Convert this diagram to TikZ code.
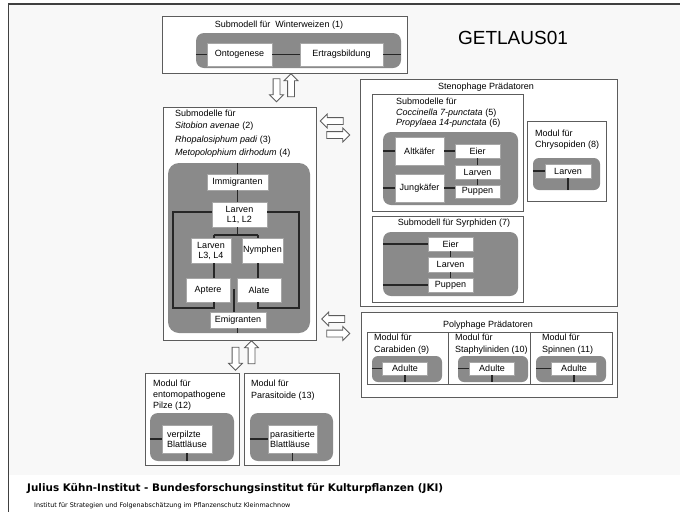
\documentclass[tikz,border=0pt]{standalone}
\usepackage{fontspec}
\setmainfont{Liberation Sans}
\newfontfamily\jkifont{DejaVu Sans}
\usetikzlibrary{shapes.arrows}
\definecolor{slidebg}{HTML}{F8F8F8}
\definecolor{panelgrey}{HTML}{8A8A8A}
\definecolor{framegrey}{HTML}{5C5C5C}
\newcommand{\lblfont}{\fontsize{9}{10}\selectfont}
\tikzset{
  % box given by its two corners: x1, y1, x2, y2
  area/.style n args={4}{
    minimum width={#3-#1},
    minimum height={#4-#2},
    at={({(#1+#3)/2},{(#2+#4)/2})}
  },
  frame/.style={draw=framegrey, line width=0.9pt, fill=white, inner sep=0pt},
  panel/.style={fill=panelgrey, rounded corners=8pt, inner sep=0pt},
  item/.style={
    fill=white,
    draw=black!35,
    line width=0.4pt,
    inner sep=0pt,
    font=\lblfont,
    align=center
  },
  link/.style={draw=black!85, line width=1.2pt},
  caption/.style={font=\lblfont, inner sep=0pt, anchor=base west},
  heading/.style={font=\lblfont, inner sep=0pt, anchor=base},
  flow/.style={
    single arrow,
    draw=framegrey,
    fill=white,
    line width=0.8pt,
    inner sep=0pt,
    text width=6pt,
    text height=6pt,
    text depth=0pt,
    minimum width=13pt,
    minimum height=23pt,
    single arrow head extend=3.5pt,
    single arrow head indent=0pt
  }
}

\begin{document}
\begin{tikzpicture}[x=1pt, y=-1pt]
    \useasboundingbox (0,0) rectangle (680,512);

    % Folienhintergrund und Rahmen
    \fill[slidebg] (9,4) rectangle (680,475);
    \draw[line width=1.4pt, black!75] (680,4) -- (8.5,4) -- (8.5,512);

    \node[font=\fontsize{19}{22}\selectfont, inner sep=0pt] (modname) at (513,37.5) {GETLAUS01};

    % Winterweizen
    \node[frame, area={162}{16}{407}{73}] (wwbox) {};
    \node[heading] (wwtitle) at (279,27.5) {Submodell für~ Winterweizen (1)};
    \node[panel, area={196}{33}{401}{68}] (wwpanel) {};
    \node[item, area={207}{43}{272}{66}] (onto) {Ontogenese};
    \node[item, area={300}{43}{383}{66}] (ertrag) {Ertragsbildung};
    \draw[link] (wwpanel.west |- onto) -- (onto);
    \draw[link] (onto) -- (ertrag);
    \draw[link] (ertrag) -- (ertrag -| wwpanel.east);

    \node[flow, shape border rotate=270] (wwdown) at (276.5,88.5) {};
    \node[flow, shape border rotate=90] (wwup) at (291,87) {};

    % Blattlaeuse
    \node[frame, area={163}{107}{316}{340}] (aphbox) {};
    \node[caption] (aph1) at (175,116.5) {Submodelle für};
    \node[caption] (aph2) at (175,128.5) {\textit{Sitobion avenae} (2)};
    \node[caption] (aph3) at (175,142.5) {\textit{Rhopalosiphum padi} (3)};
    \node[caption] (aph4) at (175,155.5) {\textit{Metopolophium dirhodum} (4)};
    \node[panel, rounded corners=11pt, area={168}{163}{310}{333}] (aphpanel) {};

    \node[item, area={207}{174}{268}{190}] (immi) {Immigranten};
    \node[item, area={212}{202}{267}{227}] (la12) {Larven\\L1, L2};
    \node[item, area={191}{238}{231}{263}] (l34) {Larven\\L3, L4};
    \node[item, area={242}{238}{283}{263}] (nym) {Nymphen};
    \node[item, area={186}{278}{230}{302}] (apt) {Aptere};
    \node[item, area={237}{278}{281}{302}] (ala) {Alate};
    \node[item, area={210}{312}{266}{328}] (emi) {Emigranten};

    \coordinate (bl) at (214,235);
    \coordinate (br) at (258,235);
    \coordinate (lpt) at (173,212);
    \coordinate (lpa) at (173,308);
    \coordinate (rpt) at (299,212);
    \coordinate (rpa) at (299,308);
    \coordinate (ej) at (234,289);

    \draw[link] (aphpanel.north -| immi) -- (immi);
    \draw[link] (immi) -- (immi |- la12.north);
    \draw[link] (la12.south -| immi) -- (immi |- bl);
    \draw[link] (bl) -- (br);
    \draw[link] (bl) -- (bl |- l34.north);
    \draw[link] (br) -- (br |- nym.north);
    \draw[link] (l34.south -| bl) -- (bl |- apt.north);
    \draw[link] (nym.south -| br) -- (br |- ala.north);
    \draw[link] (lpt -| la12.west) -- (lpt) -- (lpa) -- (lpa -| bl) -- (bl |- apt.south);
    \draw[link] (rpt -| la12.east) -- (rpt) -- (rpa) -- (rpa -| br) -- (br |- ala.south);
    \draw[link] (emi.north -| ej) -- (ej);
    \draw[link] (emi.south -| immi) -- (immi |- aphpanel.south);

    \node[flow, shape border rotate=270] (aphdown) at (235.5,357) {};
    \node[flow, shape border rotate=90] (aphup) at (251.5,354) {};

    \node[flow, shape border rotate=180] (stenoin) at (333.5,121) {};
    \node[flow, shape border rotate=0] (stenoout) at (336.5,135) {};
    \node[flow, shape border rotate=180] (polyin) at (335,319) {};
    \node[flow, shape border rotate=0] (polyout) at (336.5,333.5) {};

    % Stenophage Praedatoren
    \node[frame, area={360}{79}{617}{306}] (stenobox) {};
    \node[heading] (stenotitle) at (486,89.5) {Stenophage Prädatoren};

    \node[frame, area={372}{94}{523}{211}] (coccbox) {};
    \node[caption] (cocc1) at (396,104.5) {Submodelle für};
    \node[caption] (cocc2) at (396,115) {\textit{Coccinella 7-punctata} (5)};
    \node[caption] (cocc3) at (396,125.5) {\textit{Propylaea 14-punctata} (6)};
    \node[panel, area={383}{132}{518}{205}] (coccpanel) {};
    \node[item, area={395}{137}{444}{165}] (alt) {Altkäfer};
    \node[item, area={395}{174}{444}{202}] (jung) {Jungkäfer};
    \node[item, area={455}{144}{500}{158}] (eier) {Eier};
    \node[item, area={455}{165}{500}{179}] (larv) {Larven};
    \node[item, area={455}{185}{500}{198}] (pupp) {Puppen};
    \draw[link] (coccpanel.west |- alt) -- (alt);
    \draw[link] (alt) -- (eier);
    \draw[link] (coccpanel.west |- jung) -- (jung);
    \draw[link] (jung) -- (jung -| pupp.west);
    \draw[link] (eier) -- (larv);
    \draw[link] (larv) -- (pupp);

    \node[frame, area={527}{121}{606}{201}] (chrbox) {};
    \node[caption] (chr1) at (535,136.5) {Modul für};
    \node[caption] (chr2) at (535,147.5) {Chrysopiden (8)};
    \node[panel, rounded corners=6pt, area={533}{158}{600}{190}] (chrpanel) {};
    \node[item, area={545}{164}{591}{178}] (lchr) {Larven};
    \draw[link] (chrpanel.west |- lchr) -- (lchr);
    \draw[link] (lchr) -- (lchr |- chrpanel.south);

    \node[frame, area={372}{216}{523}{302}] (syrbox) {};
    \node[heading] (syrtitle) at (454,225.5) {Submodell für Syrphiden (7)};
    \node[panel, area={383}{232}{518}{296}] (syrpanel) {};
    \node[item, area={428}{237}{473}{251}] (seier) {Eier};
    \node[item, area={428}{257}{473}{272}] (slarv) {Larven};
    \node[item, area={428}{278}{473}{292}] (spupp) {Puppen};
    \draw[link] (syrpanel.west |- seier) -- (seier);
    \draw[link] (syrpanel.west |- spupp) -- (spupp);
    \draw[link] (seier) -- (slarv);
    \draw[link] (slarv) -- (spupp);

    % Polyphage Praedatoren
    \node[frame, area={361}{312}{617}{397}] (polybox) {};
    \node[heading] (polytitle) at (488,327.5) {Polyphage Prädatoren};
    \node[frame, line width=0.7pt, area={367}{332}{612}{384}] (polyinner) {};
    \foreach \dx in {448,530}
      \draw[framegrey, line width=0.7pt] (\dx,332) -- (\dx,384);
    \foreach \gx/\tx/\ax/\nm/\lab in {372/374/405/cara/Carabiden (9),
        458/455/492/staph/Staphyliniden (10), 536/542/574/spin/Spinnen (11)} {
      \node[caption] (m\nm) at (\tx,340.5) {Modul für};
      \node[caption] (n\nm) at (\tx,352.5) {\lab};
      \node[panel, rounded corners=6pt, area={\gx}{356}{\gx+70}{382}] (p\nm) {};
      \node[item, minimum width=45, minimum height=13] (a\nm) at (\ax,368.5) {Adulte};
      \draw[link] (p\nm.west |- a\nm) -- (a\nm);
      \draw[link] (a\nm) -- (a\nm |- p\nm.south);
    }

    % Pilze und Parasitoide
    \node[frame, area={145}{373}{239}{465}] (pilzbox) {};
    \node[caption] (pilz1) at (153,386.5) {Modul für};
    \node[caption] (pilz2) at (153,397.5) {entomopathogene};
    \node[caption] (pilz3) at (153,408.5) {Pilze (12)};
    \node[panel, area={150}{413}{234}{461}] (pilzpanel) {};
    \node[item, align=left, area={162}{425}{212}{453}] (vbl) {verpilzte\\Blattläuse};
    \draw[link] (pilzpanel.west |- vbl) -- (vbl);
    \draw[link] (vbl) -- (vbl |- pilzpanel.south);

    \node[frame, area={244}{373}{339}{465}] (parabox) {};
    \node[caption] (para1) at (251,386.5) {Modul für};
    \node[caption] (para2) at (251,398.5) {Parasitoide (13)};
    \node[panel, area={250}{413}{333}{461}] (parapanel) {};
    \node[item, align=left, area={268}{425}{317}{453}] (pbl) {parasitierte\\Blattläuse};
    \draw[link] (parapanel.west |- pbl) -- (pbl);
    \draw[link] (pbl) -- (pbl |- parapanel.south);

    % Fusszeile
    \node[anchor=base west, inner sep=0pt, font=\jkifont\bfseries\fontsize{10.4}{12}\selectfont] (jki)
      at (27,491.5) {Julius Kühn-Institut - Bundesforschungsinstitut für Kulturpflanzen (JKI)};
    \node[anchor=base west, inner sep=0pt, font=\jkifont\fontsize{6.4}{8}\selectfont] (jkisub)
      at (34,507) {Institut für Strategien und Folgenabschätzung im Pflanzenschutz Kleinmachnow};

\end{tikzpicture}
\end{document}
